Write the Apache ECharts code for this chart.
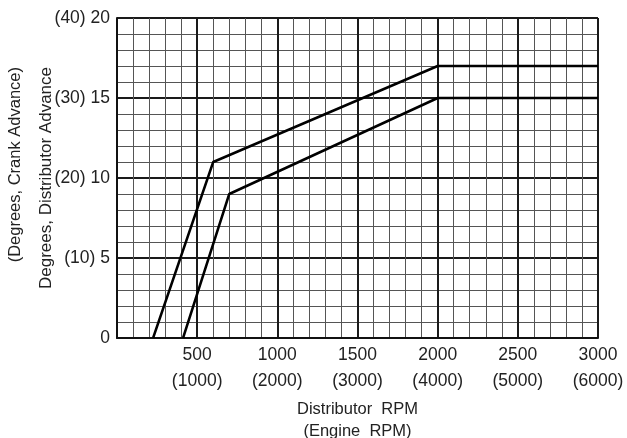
<!DOCTYPE html>
<html>
<head>
<meta charset="utf-8">
<script src="https://cdn.jsdelivr.net/npm/echarts@6/dist/echarts.min.js"></script>
<style>
html, body { margin: 0; padding: 0; background: #fff; }
#chart { width: 627px; height: 438px; }
</style>
</head>
<body>
<div id="chart"></div>
<script>
// distributor rpm vs distributor advance (degrees)
var upperRpm = [225, 600, 2000, 3000];
var upperAdv = [0, 11, 17, 17];
var lowerRpm = [412, 700, 2000, 3000];
var lowerAdv = [0, 9, 15, 15];
var yTicks = [0, 5, 10, 15, 20];
var xTicks = [500, 1000, 1500, 2000, 2500, 3000];

function pairs(xs, ys) {
    return xs.map(function (x, i) { return [x, ys[i]]; });
}

var chart = echarts.init(document.getElementById('chart'));
var textColor = '#222';
var font = 'Liberation Sans, Arial, sans-serif';

var option = {
    animation: false,
    textStyle: { fontFamily: font },
    grid: { left: 117, right: 29, top: 18, bottom: 100, outerBoundsMode: 'none', containLabel: false },
    xAxis: {
        type: 'value',
        min: 0,
        max: 3000,
        interval: 500,
        name: 'Distributor  RPM\n(Engine  RPM)',
        nameLocation: 'middle',
        nameGap: 56,
        nameTextStyle: { color: textColor, fontSize: 16.5, lineHeight: 22, fontFamily: font },
        axisLine: { show: true, lineStyle: { color: '#111', width: 2 } },
        axisTick: { show: false },
        axisLabel: {
            color: textColor,
            fontSize: 17.5,
            lineHeight: 26,
            margin: 4,
            formatter: function (v) {
                return xTicks.indexOf(v) < 0 ? '' : v + '\n(' + (v * 2) + ')';
            }
        },
        splitLine: { show: true, lineStyle: { color: '#1a1a1a', width: 2 } },
        minorTick: { show: false, splitNumber: 5 },
        minorSplitLine: { show: true, lineStyle: { color: '#555', width: 1 } }
    },
    yAxis: {
        type: 'value',
        min: 0,
        max: 20,
        interval: 5,
        name: 'Degrees, Distributor Advance',
        nameLocation: 'middle',
        nameGap: 62,
        nameRotate: 90,
        nameMoveOverlap: false,
        nameTextStyle: { color: textColor, fontSize: 17, fontFamily: font },
        axisLine: { show: true, lineStyle: { color: '#111', width: 2 } },
        axisTick: { show: false },
        axisLabel: {
            color: textColor,
            fontSize: 17.5,
            margin: 7,
            formatter: function (v) {
                if (yTicks.indexOf(v) < 0) return '';
                return v === 0 ? '0' : '(' + (v * 2) + ') ' + v;
            }
        },
        splitLine: { show: true, lineStyle: { color: '#1a1a1a', width: 2 } },
        minorTick: { show: false, splitNumber: 5 },
        minorSplitLine: { show: true, lineStyle: { color: '#555', width: 1 } }
    },
    graphic: [{
        type: 'text',
        left: 7,
        top: 67,
        rotation: Math.PI / 2,
        style: {
            text: '(Degrees, Crank Advance)',
            fill: textColor,
            font: '16.5px ' + font
        }
    }],
    series: [
        {
            type: 'line',
            data: pairs(upperRpm, upperAdv),
            showSymbol: false,
            lineStyle: { color: '#000', width: 2.5 }
        },
        {
            type: 'line',
            data: pairs(lowerRpm, lowerAdv),
            showSymbol: false,
            lineStyle: { color: '#000', width: 2.5 }
        }
    ]
};
chart.setOption(option);
</script>
</body>
</html>
